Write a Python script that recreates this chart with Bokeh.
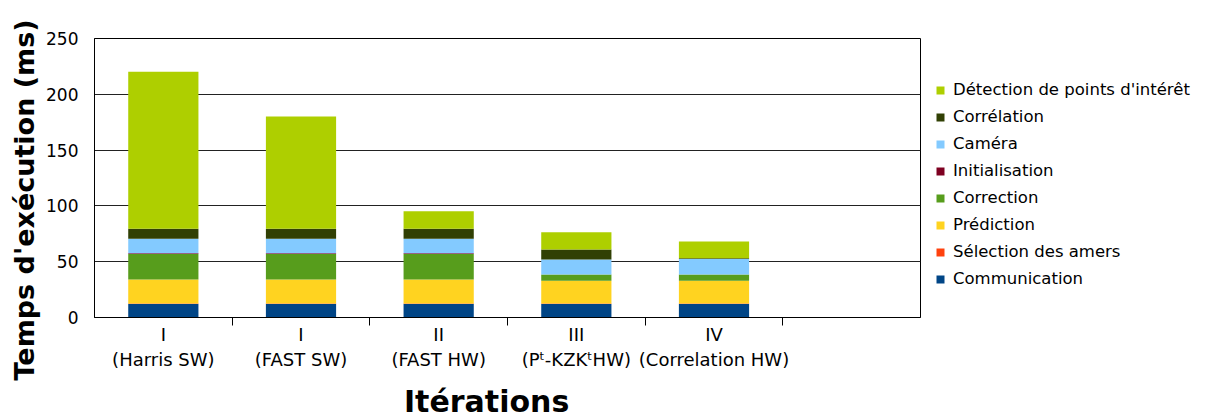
from bokeh.plotting import figure
from bokeh.models import Range1d, FixedTicker, Legend, LegendItem, ColumnDataSource, Title
from bokeh.embed import file_html
from bokeh.resources import INLINE

labels = ["I\n(Harris SW)", "I\n(FAST SW)", "II\n(FAST HW)", "III\n(Pᵗ-KZKᵗHW)", "IV\n(Correlation HW)", ""]
series = ["Communication", "Sélection des amers", "Prédiction", "Correction",
          "Initialisation", "Caméra", "Corrélation", "Détection de points d'intérêt"]
colors = ["#004586", "#ff420e", "#ffd320", "#579d1c", "#7e0021", "#83caff", "#314004", "#aecf00"]

communication = [12, 12, 12, 12, 12, 0.5]
selection = [0.5, 0.5, 0.5, 0.5, 0.5, 0]
prediction = [21.5, 21.5, 21.5, 20.5, 20.5, 0]
correction = [23, 23, 23, 5.5, 5.5, 0]
initialisation = [0.6, 0.6, 0.6, 0, 0, 0]
camera = [13, 13, 13, 13.5, 14, 0]
correlation = [9, 9, 9, 9, 0.6, 0]
detection = [140.5, 100.5, 15.5, 15.5, 15, 0]

values = [communication, selection, prediction, correction, initialisation, camera, correlation, detection]
xs = [i + 0.5 for i in range(len(labels))]
data = {"x": xs}
keys = ["s%d" % i for i in range(len(series))]
for k, v in zip(keys, values):
    data[k] = v
source = ColumnDataSource(data)

FONT = "DejaVu Sans"
NB = "\u00a0"

p = figure(frame_width=826, frame_height=279, output_backend="svg", toolbar_location=None,
           x_range=Range1d(0, len(labels)), y_range=Range1d(0, 250),
           min_border_left=94, min_border_right=287, min_border_top=38, min_border_bottom=102)

rs = p.vbar_stack(keys, x="x", width=0.51, color=colors, line_color=None, source=source)

p.outline_line_color = "black"
p.outline_line_width = 1
p.xgrid.grid_line_color = None
p.ygrid.grid_line_color = "#222222"
p.ygrid.grid_line_width = 1
p.ygrid.ticker = FixedTicker(ticks=[0, 50, 100, 150, 200, 250])

yax = p.yaxis[0]
yax.ticker = FixedTicker(ticks=[0, 50, 100, 150, 200, 250])
yax.major_tick_out = 0
yax.major_tick_in = 0
yax.minor_tick_out = 0
yax.minor_tick_in = 0
yax.axis_line_color = "black"
yax.major_label_text_font = FONT
yax.major_label_text_font_size = "17px"
yax.major_label_text_color = "black"
yax.major_label_standoff = 16

ytitle = Title(text="Temps d'exécution (ms)", align="left", offset=-63,
               text_font=FONT, text_font_style="bold", text_font_size="27px",
               text_color="black", standoff=8)
p.add_layout(ytitle, "left")

xax = p.xaxis[0]
xax.ticker = FixedTicker(ticks=xs, minor_ticks=list(range(1, len(labels))))
xax.major_label_overrides = {x: l for x, l in zip(xs, labels)}
xax.major_tick_line_color = None
xax.major_tick_out = 0
xax.major_tick_in = 0
xax.minor_tick_line_color = "black"
xax.minor_tick_out = 8
xax.minor_tick_in = 0
xax.axis_line_color = "black"
xax.major_label_text_font = FONT
xax.major_label_text_font_size = "18px"
xax.major_label_text_color = "black"
xax.major_label_standoff = -2
xax.axis_label = "Itérations" + NB * 4
xax.axis_label_text_font = FONT
xax.axis_label_text_font_style = "bold"
xax.axis_label_text_font_size = "30px"
xax.axis_label_text_color = "black"
xax.axis_label_standoff = 11

items = [LegendItem(label=s, renderers=[r]) for s, r in zip(series, rs)][::-1]
legend = Legend(items=items, location=(15, 25), glyph_width=10, glyph_height=10,
                label_height=27, spacing=0, padding=0, margin=0, label_standoff=8,
                label_text_font=FONT, label_text_font_size="16.5px", label_text_color="black",
                border_line_color=None, background_fill_alpha=0)
p.add_layout(legend, "right")

open("out.html", "w").write(file_html(p, INLINE))
